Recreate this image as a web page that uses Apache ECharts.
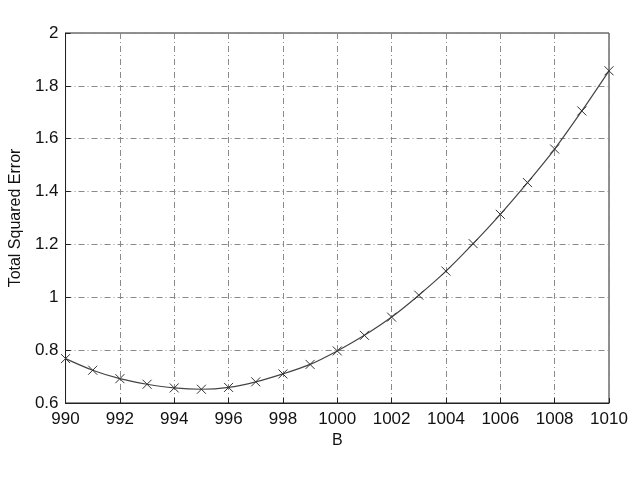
<!DOCTYPE html>
<html>
<head>
<meta charset="utf-8">
<script src="https://cdn.jsdelivr.net/npm/echarts@6/dist/echarts.min.js"></script>
<style>html,body{margin:0;padding:0;background:#fff;}#c{width:636px;height:477px;}</style>
</head>
<body>
<div id="c"></div>
<script>
var bValues = [990, 991, 992, 993, 994, 995, 996, 997, 998, 999, 1000, 1001, 1002, 1003, 1004, 1005, 1006, 1007, 1008, 1009, 1010];
var errValues = [0.768, 0.724, 0.692, 0.671, 0.657, 0.652, 0.659, 0.680, 0.710, 0.746, 0.797, 0.856, 0.925, 1.008, 1.099, 1.203, 1.314, 1.434, 1.561, 1.705, 1.857];
var xTicks = {min: 990, max: 1010, interval: 2};
var yTicks = {min: 0.6, max: 2, interval: 0.2};

var pts = bValues.map(function (b, i) { return [b, errValues[i]]; });
var font = 'Liberation Sans, Arial, sans-serif';
var gridLine = {show: true, lineStyle: {color: '#8a8a8a', width: 1, type: [6, 3, 1, 3]}};
var chart = echarts.init(document.getElementById('c'), null, {renderer: 'canvas'});
chart.setOption({
  animation: false,
  backgroundColor: '#ffffff',
  grid: {left: 63, right: 27, top: 33, bottom: 74, show: true, borderColor: '#222', borderWidth: 1},
  xAxis: {
    type: 'value', min: xTicks.min, max: xTicks.max, interval: xTicks.interval,
    name: 'B', nameLocation: 'middle', nameGap: 29,
    nameTextStyle: {color: '#111', fontFamily: font, fontSize: 16},
    axisLine: {show: true, lineStyle: {color: '#222'}},
    axisTick: {show: true, inside: true, length: 5, lineStyle: {color: '#222'}},
    axisLabel: {color: '#111', fontFamily: font, fontSize: 17, margin: 8,
      formatter: function (v) { return String(v); }},
    splitLine: gridLine
  },
  yAxis: {
    type: 'value', min: yTicks.min, max: yTicks.max, interval: yTicks.interval,
    name: 'Total Squared Error', nameLocation: 'middle', nameGap: 41,
    nameTextStyle: {color: '#111', fontFamily: font, fontSize: 16},
    axisLine: {show: true, lineStyle: {color: '#222'}},
    axisTick: {show: true, inside: true, length: 5, lineStyle: {color: '#222'}},
    axisLabel: {color: '#111', fontFamily: font, fontSize: 17, margin: 7,
      formatter: function (v) { return String(Math.round(v * 10) / 10); }},
    splitLine: gridLine
  },
  series: [{
    type: 'line',
    data: pts,
    smooth: 0.3,
    lineStyle: {color: '#444', width: 1.2},
    symbol: 'path://M0,0L10,10M10,0L0,10',
    symbolSize: 9,
    itemStyle: {color: 'none', borderColor: '#333', borderWidth: 1},
    showSymbol: true
  }]
});
</script>
</body>
</html>
